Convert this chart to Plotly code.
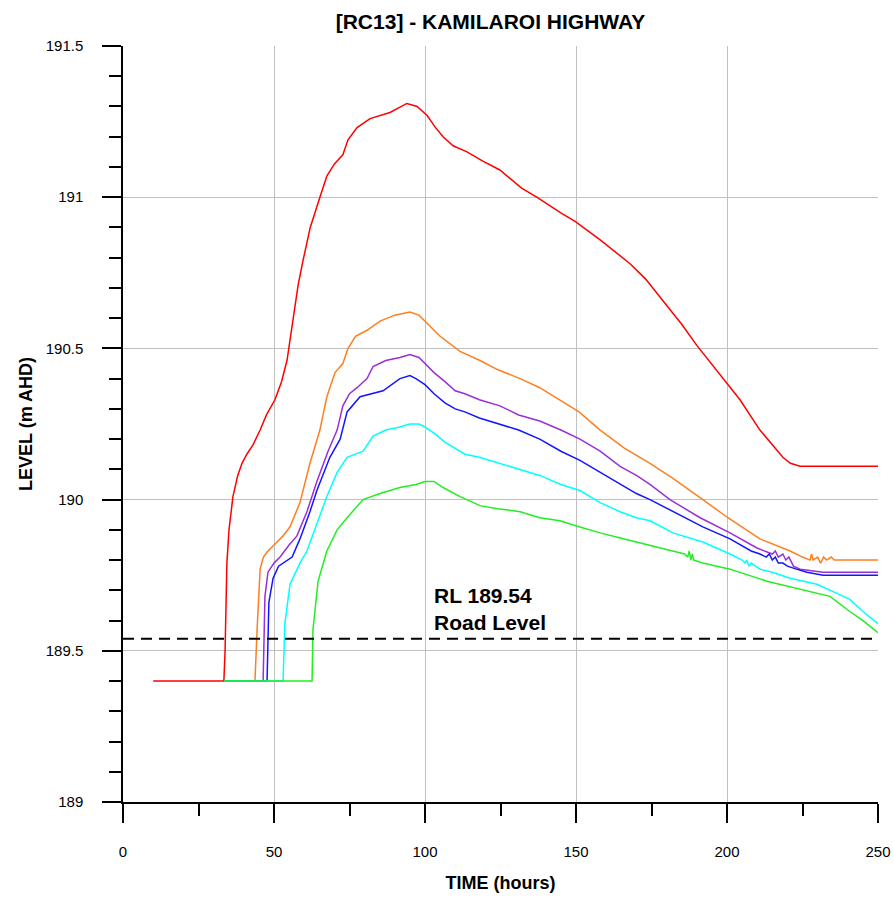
import plotly.graph_objects as go

# Flood level hydrographs at RC13 (Kamilaroi Highway), levels in m AHD vs time in hours
red_t = [10, 33.4, 33.8, 34.1, 34.4, 35.1, 36.4, 38, 39.4, 41, 43.0, 45.4, 47.5, 50.3, 52.5, 54.3, 55.3,
         56.5, 58, 59.6, 62, 65.2, 67.5, 70, 71.9, 72.8, 74.5, 77.5, 81.8, 88.4, 94.0, 97.4, 100.7,
         103.5, 106.0, 109.3, 113.9, 119, 124.8, 132, 137, 141.4, 145.5, 149.7, 157.9, 167.9, 173,
         177.8, 185, 190, 197, 204.3, 210.9, 215, 218.5, 221, 224.2, 230, 250]
red_v = [189.40, 189.40, 189.50, 189.68, 189.79, 189.90, 190.01, 190.08, 190.12, 190.15, 190.18, 190.23,
         190.28, 190.33, 190.39, 190.46, 190.53, 190.62, 190.71, 190.79, 190.90, 191.00, 191.07, 191.11,
         191.13, 191.14, 191.19, 191.23, 191.26, 191.28, 191.31, 191.30, 191.27, 191.23, 191.20, 191.17,
         191.15, 191.12, 191.09, 191.03, 191.00, 190.97, 190.945, 190.92, 190.86, 190.78, 190.73,
         190.67, 190.58, 190.51, 190.42, 190.33, 190.23, 190.18, 190.14, 190.12, 190.11, 190.11, 190.11]

orange_t = [33.5, 43.7, 44.4, 45.4, 46.5, 48.0, 51.0, 53, 55.3, 58.6, 61.9, 65.2, 67.5, 70.2, 72.8, 74.5,
            77, 80.8, 85.1, 90, 95, 98, 100, 105, 111.6, 118.2, 124, 131.5, 138, 144.7, 151, 158, 166,
            174.5, 182.1, 192, 200.3, 210.9, 220.9, 225, 227.5, 228, 228.5, 230, 231, 232, 233, 234.5,
            235.5, 250]
orange_v = [189.40, 189.40, 189.57, 189.77, 189.81, 189.83, 189.86, 189.88, 189.91, 189.99, 190.12, 190.23,
            190.34, 190.42, 190.45, 190.50, 190.54, 190.56, 190.59, 190.61, 190.62, 190.61, 190.59, 190.54,
            190.49, 190.46, 190.43, 190.40, 190.37, 190.33, 190.29, 190.23, 190.17, 190.12, 190.07, 190.00,
            189.94, 189.87, 189.83, 189.81, 189.80, 189.82, 189.80, 189.81, 189.79, 189.81, 189.80, 189.81,
            189.80, 189.80]

purple_t = [33.5, 46.4, 47.0, 48.0, 50, 52.0, 55, 57.6, 60.9, 64.2, 67.9, 70.9, 72.8, 75, 77.5, 80.8, 82.8,
            87, 91.7, 95, 98, 100, 103, 106.6, 110, 113.2, 118, 124.8, 131, 138, 145, 151.3, 158, 164.6,
            170, 174.5, 181.1, 191.1, 201, 209.9, 215, 216, 217, 218.5, 219.5, 220.5, 222, 224.2, 228,
            231.8, 250]
purple_v = [189.40, 189.40, 189.68, 189.76, 189.79, 189.81, 189.85, 189.88, 189.96, 190.06, 190.16, 190.23,
            190.31, 190.35, 190.37, 190.40, 190.44, 190.46, 190.47, 190.48, 190.47, 190.45, 190.42, 190.39,
            190.36, 190.35, 190.33, 190.31, 190.28, 190.26, 190.23, 190.20, 190.16, 190.11, 190.08, 190.05,
            190.00, 189.94, 189.89, 189.84, 189.82, 189.83, 189.81, 189.82, 189.80, 189.81, 189.78, 189.77,
            189.765, 189.76, 189.76]

blue_t = [33.5, 47.7, 48.3, 49.7, 51.5, 54.3, 56, 58.6, 61.9, 64.2, 68.5, 71.9, 74.2, 78.5, 82, 86.1, 91.7,
          95, 97, 100, 103, 106.6, 110, 113.2, 118, 124.8, 131, 138, 145, 151.3, 158, 164.6, 170, 174.5,
          182.1, 192, 201, 208, 210.9, 213, 214, 215, 216, 217, 218.5, 220, 223, 226.5, 231.8, 250]
blue_v = [189.40, 189.40, 189.66, 189.74, 189.78, 189.80, 189.81, 189.87, 189.96, 190.03, 190.14, 190.20,
          190.29, 190.34, 190.35, 190.36, 190.40, 190.41, 190.40, 190.38, 190.35, 190.32, 190.30, 190.29,
          190.27, 190.25, 190.23, 190.20, 190.16, 190.13, 190.09, 190.05, 190.02, 190.00, 189.96, 189.91,
          189.87, 189.83, 189.82, 189.81, 189.82, 189.80, 189.81, 189.79, 189.79, 189.78, 189.77, 189.76,
          189.75, 189.75]

cyan_t = [33.5, 53.0, 53.6, 55.3, 58.6, 60.9, 64.2, 67.5, 70.9, 74.2, 79.5, 82.8, 87, 91.7, 95, 98, 100,
          103, 106.6, 110, 113.2, 118, 124.8, 131, 138, 145, 151.3, 158, 164.6, 170, 174.5, 182.1, 192,
          201, 205, 206, 206.5, 207.3, 208, 210.9, 215, 220.9, 229.8, 236.4, 240.7, 245, 250]
cyan_v = [189.40, 189.40, 189.59, 189.72, 189.79, 189.83, 189.92, 190.01, 190.09, 190.14, 190.16, 190.21,
          190.23, 190.24, 190.25, 190.25, 190.24, 190.22, 190.19, 190.17, 190.15, 190.14, 190.12, 190.10,
          190.08, 190.05, 190.03, 189.99, 189.96, 189.94, 189.93, 189.89, 189.86, 189.82, 189.80, 189.79,
          189.80, 189.78, 189.79, 189.77, 189.76, 189.74, 189.72, 189.69, 189.67, 189.63, 189.59]

green_t = [33.5, 62.6, 62.9, 64.6, 67.5, 70.9, 74.2, 79.5, 85.1, 91.7, 97, 100, 103, 106, 111.6, 118.2, 124,
           131.5, 138, 144.7, 151, 158, 166, 174.5, 182, 186, 187, 187.5, 188, 188.5, 189, 192, 201, 213.2,
           225.2, 234.1, 240.7, 245, 250]
green_v = [189.40, 189.40, 189.57, 189.73, 189.83, 189.90, 189.94, 190.00, 190.02, 190.04, 190.05, 190.06,
           190.06, 190.04, 190.01, 189.98, 189.97, 189.96, 189.94, 189.93, 189.91, 189.89, 189.87, 189.85,
           189.83, 189.82, 189.81, 189.83, 189.80, 189.82, 189.80, 189.79, 189.77, 189.73, 189.70, 189.68,
           189.63, 189.60, 189.56]

road_level = 189.54
road_label = "RL 189.54<br>Road Level"

series = [
    (red_t, red_v, "#ff0000"),
    (orange_t, orange_v, "#ff7f20"),
    (purple_t, purple_v, "#9a2fd6"),
    (blue_t, blue_v, "#1414ff"),
    (cyan_t, cyan_v, "#00ffff"),
    (green_t, green_v, "#22ee22"),
]

FONT = "Liberation Sans, Arial, sans-serif"

fig = go.Figure()
for t, v, c in series:
    fig.add_trace(go.Scatter(x=t, y=v, mode="lines", line=dict(color=c, width=1.5),
                             showlegend=False, hoverinfo="skip"))

# road level reference line
fig.add_trace(go.Scatter(x=[0, 250], y=[road_level, road_level], mode="lines",
                         line=dict(color="black", width=2, dash="11px,7px"),
                         showlegend=False, hoverinfo="skip"))

fig.add_annotation(x=102.2, y=road_level, xref="x", yref="y", text="<b>" + road_label + "</b>",
                   showarrow=False, xanchor="left", yanchor="bottom", align="left", yshift=3,
                   font=dict(family=FONT, size=21, color="black"))

fig.update_layout(
    width=894, height=901,
    margin=dict(l=123, r=16, t=46, b=99, autoexpand=False),
    paper_bgcolor="white", plot_bgcolor="white",
    font=dict(family=FONT, size=15, color="black"),
    title=dict(text="<b>[RC13] - KAMILAROI HIGHWAY</b>", x=0.5 * 755 / 894 + 113 / 894, xanchor="center",
               y=1 - 22 / 901, yanchor="middle", font=dict(family=FONT, size=21, color="black")),
    xaxis=dict(range=[0, 250], tickvals=[0, 50, 100, 150, 200, 250], ticks="outside", ticklen=19,
               tickwidth=1.5, tickcolor="black", showline=True, linecolor="black", linewidth=1.5,
               showgrid=True, gridcolor="#c0c0c0", gridwidth=1, zeroline=False,
               ticklabelstandoff=16, automargin=False,
               minor=dict(tickvals=[25, 75, 125, 175, 225], ticks="outside", ticklen=12,
                          tickwidth=1.5, tickcolor="black", showgrid=False),
               title=dict(text="<b>TIME (hours)</b>", font=dict(family=FONT, size=18), standoff=18)),
    yaxis=dict(range=[189, 191.5], tickvals=[189, 189.5, 190, 190.5, 191, 191.5],
               ticktext=["189", "189.5", "190", "190.5", "191", "191.5"],
               ticks="outside", ticklen=19, tickwidth=1.5, tickcolor="black", showline=True,
               linecolor="black", linewidth=1.5, showgrid=True, gridcolor="#c0c0c0", gridwidth=1,
               zeroline=False, ticklabelstandoff=16, automargin=False,
               minor=dict(tickvals=[round(189 + 0.1 * i, 1) for i in range(26) if i % 5],
                          ticks="outside", ticklen=12, tickwidth=1.5, tickcolor="black",
                          showgrid=False),
               title=dict(text="<b>LEVEL (m AHD)</b>", font=dict(family=FONT, size=18), standoff=8)),
)

fig.write_html("out.html")
